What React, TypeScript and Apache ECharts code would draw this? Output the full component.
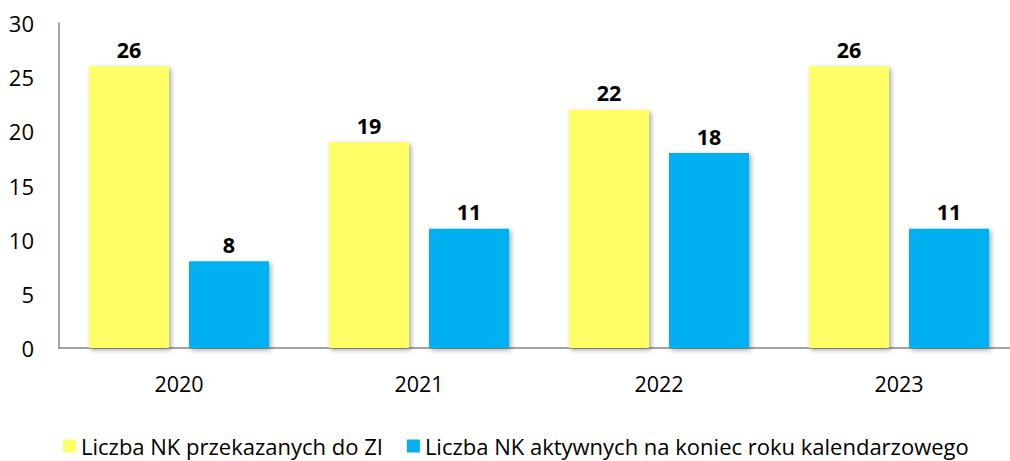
import React, { useEffect, useRef } from "react";
import * as echarts from "echarts";

const categories = ["2020", "2021", "2022", "2023"];
const seriesNames = ["Liczba NK przekazanych do ZI", "Liczba NK aktywnych na koniec roku kalendarzowego"];
const przekazane = [26, 19, 22, 26];
const aktywne = [8, 11, 18, 11];
const colors = ["#FFFF66", "#00B0F0"];

export default function App() {
  const ref = useRef<HTMLDivElement>(null);
  useEffect(() => {
    document.body.style.margin = "0";
    const chart = echarts.init(ref.current!, null, { renderer: "svg" });
    const font = "'Open Sans', 'Noto Sans', sans-serif";
    const barStyle = (c: string) => ({
      color: c,
      shadowColor: "rgba(0,0,0,0.35)",
      shadowBlur: 5,
      shadowOffsetX: 2,
      shadowOffsetY: 2,
    });
    const label = {
      show: true,
      position: "top" as const,
      distance: 6,
      color: "#000",
      fontWeight: "bold" as const,
      fontSize: 21.5,
      fontFamily: font,
    };
    chart.setOption({
      animation: false,
      textStyle: { fontFamily: font },
      grid: { left: 59, top: 23, width: 960, height: 325, containLabel: false },
      legend: {
        left: 63,
        top: 435,
        padding: 0,
        itemWidth: 13,
        itemHeight: 13,
        itemGap: 24,
        icon: "rect",
        textStyle: { fontSize: 22, lineHeight: 22, color: "#000", fontFamily: font },
        data: seriesNames,
      },
      xAxis: {
        type: "category",
        data: categories,
        axisLine: { lineStyle: { color: "#868686", width: 1.5 } },
        axisTick: { show: false },
        axisLabel: { fontSize: 21.5, color: "#000", margin: 24 },
      },
      yAxis: {
        type: "value",
        min: 0,
        max: 30,
        interval: 5,
        axisLine: { show: true, lineStyle: { color: "#868686", width: 1.5 } },
        axisTick: { show: false },
        splitLine: { show: false },
        axisLabel: { fontSize: 22, color: "#000", margin: 25 },
      },
      series: [
        { name: seriesNames[0], type: "bar", data: przekazane, barWidth: 80, barGap: "25%", itemStyle: barStyle(colors[0]), label },
        { name: seriesNames[1], type: "bar", data: aktywne, barWidth: 80, barGap: "25%", itemStyle: barStyle(colors[1]), label },
      ],
    });
    return () => chart.dispose();
  }, []);
  return (
    <div style={{ width: 1010, height: 461, overflow: "hidden" }}>
      <div ref={ref} style={{ width: 1030, height: 461 }} />
    </div>
  );
}
